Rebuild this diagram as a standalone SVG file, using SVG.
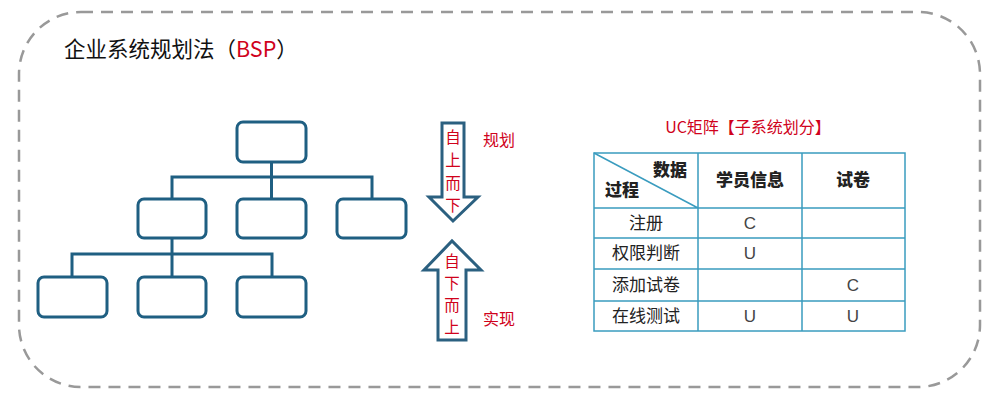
<svg xmlns="http://www.w3.org/2000/svg" width="997" height="405" viewBox="0 0 997 405">
<style>
.t{font-family:"Noto Sans CJK SC","Liberation Sans",sans-serif}
.box{fill:#fff;stroke:#1f5f82;stroke-width:3}
.ln{stroke:#1f5f82;stroke-width:3;fill:none}
.arr{fill:#fff;stroke:#2b6080;stroke-width:3;stroke-linejoin:miter}
.red{fill:#d0021b}
.grid{stroke:#3a9cbf;stroke-width:1.5;fill:none}
.cell{font-family:"Noto Sans CJK SC","Liberation Sans",sans-serif;font-size:17px;fill:#222;text-anchor:middle}
.uc{font-family:"Liberation Sans",sans-serif;font-size:17px;fill:#444;text-anchor:middle}
.hd{font-family:"Noto Sans CJK SC",sans-serif;font-size:17px;font-weight:900;fill:#222;text-anchor:middle}
.v{font-family:"Noto Sans CJK SC",sans-serif;font-size:15.5px;fill:#d0021b;text-anchor:middle}
</style>
<rect x="0" y="0" width="997" height="405" fill="#fff"/>
<rect x="19" y="12" width="961" height="375" rx="62" ry="62" fill="none" stroke="#999" stroke-width="2.5" stroke-dasharray="12 8"/>
<text class="t" x="64" y="57" font-size="21.5" fill="#111">企业系统规划法（<tspan class="red">BSP</tspan>）</text>
<g id="connectors">
<path class="ln" d="M271.5 162V199M172 199V177H372V199M172 238V277M72 277V254H272V277"/>
</g>
<g id="n0"><rect class="box" x="237" y="122" width="69" height="40" rx="6"/></g>
<g id="n1"><rect class="box" x="138" y="199" width="68" height="39" rx="6"/></g>
<g id="n2"><rect class="box" x="237" y="199" width="69" height="39" rx="6"/></g>
<g id="n3"><rect class="box" x="337" y="199" width="69" height="39" rx="6"/></g>
<g id="n4"><rect class="box" x="38" y="277" width="69" height="40" rx="6"/></g>
<g id="n5"><rect class="box" x="138" y="277" width="68" height="40" rx="6"/></g>
<g id="n6"><rect class="box" x="237" y="277" width="69" height="40" rx="6"/></g>
<g id="down">
<path class="arr" d="M442 123H464V197H478L453 221L429 197H442Z"/>
<text class="v"><tspan x="453" y="143">自</tspan><tspan x="453" y="166">上</tspan><tspan x="453" y="189">而</tspan><tspan x="453" y="211">下</tspan></text>
</g>
<g id="up">
<path class="arr" d="M438 340V270H424L452 241L481 270H466V340Z"/>
<text class="v"><tspan x="452" y="267">自</tspan><tspan x="452" y="289">下</tspan><tspan x="452" y="311">而</tspan><tspan x="452" y="333">上</tspan></text>
</g>
<text class="t red" x="483" y="146" font-size="16">规划</text>
<text class="t red" x="483" y="325" font-size="16">实现</text>
<g id="uc">
<text class="t red" x="748" y="133" font-size="16" text-anchor="middle">UC矩阵【子系统划分】</text>
<rect class="grid" x="594" y="153" width="311" height="178"/>
<path class="grid" d="M594 208H905M594 238H905M594 269H905M594 301H905M698 153V331M802 153V331M594 153L698 208"/>
<text class="hd" x="670" y="176">数据</text>
<text class="hd" x="622" y="196">过程</text>
<text class="hd" x="750" y="186">学员信息</text>
<text class="hd" x="853" y="186">试卷</text>
<text class="cell" x="646" y="229">注册</text>
<text class="cell" x="646" y="259">权限判断</text>
<text class="cell" x="646" y="291">添加试卷</text>
<text class="cell" x="646" y="322">在线测试</text>
<text class="uc" x="750" y="229">C</text>
<text class="uc" x="750" y="259">U</text>
<text class="uc" x="853" y="291">C</text>
<text class="uc" x="750" y="322">U</text>
<text class="uc" x="853" y="322">U</text>
</g>
</svg>
